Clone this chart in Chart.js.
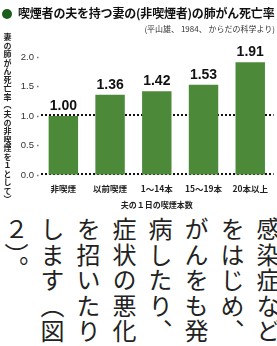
<!DOCTYPE html>
<html>
<head>
<meta charset="utf-8">
<script src="https://cdn.jsdelivr.net/npm/chart.js@4"></script>
<style>
  html, body { margin: 0; padding: 0; background: #fff; }
  body { width: 277px; height: 346px; position: relative; overflow: hidden; font-family: "Noto Sans CJK JP", sans-serif; }
  .title { position: absolute; left: 2px; top: 4px; white-space: nowrap; font-size: 12px; font-weight: bold; color: #111; letter-spacing: -0.2px; }
  .title .dot { display: inline-block; width: 10px; height: 10px; border-radius: 50%; background: #1b5e1b; margin-right: 6px; vertical-align: -1px; }
  .source { position: absolute; right: 2px; top: 23px; font-size: 8px; color: #333; white-space: nowrap; }
  .ytitle { position: absolute; left: 2px; top: 33px; writing-mode: vertical-rl; font-size: 8px; font-weight: bold; color: #222; letter-spacing: 0.55px; white-space: nowrap; }
  .chart-box { position: absolute; left: 0; top: 0; width: 277px; height: 212px; }
  .body-text { position: absolute; right: -9px; top: 217px; writing-mode: vertical-rl; font-size: 24px; line-height: 36px; letter-spacing: 1.5px; color: #222; white-space: nowrap; }
</style>
</head>
<body>
<div class="chart-box"><canvas id="mainChart"></canvas></div>
<div class="title"><span class="dot"></span>喫煙者の夫を持つ妻の(非喫煙者)の肺がん死亡率</div>
<div class="source">(平山雄、 1984、 からだの科学より)</div>
<div class="ytitle">妻の肺がん死亡率（夫の非喫煙を１として）</div>
<div class="body-text">感染症など<br>をはじめ、<br>がんをも発<br>病したり、<br>症状の悪化<br>を招いたり<br>します（図<br>２）。</div>

<script>
// dati
const categories = [`非喫煙`, `以前喫煙`, `1～14本`, `15～19本`, `20本以上`]
const deathRates = [1.0, 1.36, 1.42, 1.53, 1.91]
const yTicks = [0, 0.5, 1.0, 1.5, 2.0]
const dottedAt = [0, 1.0] // linee tratteggiate

// linee tratteggiate disegnate con la scala y (dietro le barre)
const dottedLines = {
  id: `dottedLines`,
  beforeDatasetsDraw(chart) {
    const ctx = chart.ctx
    const y = chart.scales.y
    const area = chart.chartArea
    ctx.save()
    ctx.strokeStyle = `#111`
    ctx.lineWidth = 2
    ctx.setLineDash([2, 2])
    dottedAt.forEach((v) => {
      const py = Math.round(y.getPixelForValue(v)) - 1
      ctx.beginPath()
      ctx.moveTo(area.left + 1, py)
      ctx.lineTo(area.right, py)
      ctx.stroke()
    })
    ctx.restore()
  },
}

// scrive il valore sopra ogni barra
const valueLabels = {
  id: `valueLabels`,
  afterDatasetsDraw(chart) {
    const ctx = chart.ctx
    const meta = chart.getDatasetMeta(0)
    ctx.save()
    ctx.font = `bold 14px "Liberation Sans", Arial, sans-serif`
    ctx.fillStyle = `#111`
    ctx.textAlign = `center`
    ctx.textBaseline = `bottom`
    meta.data.forEach((bar, i) => {
      ctx.fillText(deathRates[i].toFixed(2), bar.x, bar.y - 3)
    })
    ctx.restore()
  },
}

const chart = document.getElementById(`mainChart`)

new Chart(chart, {
  type: `bar`,
  data: {
    labels: categories,
    datasets: [
      {
        label: `肺がん死亡率`,
        data: deathRates,
        backgroundColor: `#4c8a3a`,
        borderWidth: 0,
        barPercentage: 0.63,
        categoryPercentage: 1,
      },
    ],
  },
  options: {
    responsive: true,
    maintainAspectRatio: false,
    animation: false,
    layout: { padding: { top: 57, left: 0, right: 0, bottom: 0 } },
    plugins: {
      legend: { display: false },
      tooltip: { enabled: false },
    },
    scales: {
      x: {
        grid: { display: false, drawTicks: false },
        border: { display: false },
        ticks: {
          padding: 9,
          color: `#222`,
          font: { family: `"Noto Sans CJK JP"`, size: 8.5, weight: `bold` },
        },
        title: {
          display: true,
          text: `夫の１日の喫煙本数`,
          color: `#222`,
          font: { family: `"Noto Sans CJK JP"`, size: 8, weight: `bold` },
          padding: { top: 0, bottom: 2 },
        },
        afterFit: (scale) => { scale.height = 37 },
      },
      y: {
        min: 0,
        max: 2.0,
        afterBuildTicks: (scale) => { scale.ticks = yTicks.map((v) => ({ value: v })) },
        grid: {
          drawOnChartArea: false, // le linee vere le fa il plugin
          tickColor: `#777`,
          tickLength: 3,
          tickWidth: 1.5,
          tickBorderDash: [1.5, 1.5],
        },
        border: { display: false },
        ticks: {
          padding: 3,
          color: `#333`,
          font: { family: `"Liberation Sans"`, size: 9.5 },
          callback: (v) => Number(v).toFixed(1),
        },
        afterFit: (scale) => { scale.width = 40 },
      },
    },
  },
  plugins: [dottedLines, valueLabels],
})
</script>
</body>
</html>
